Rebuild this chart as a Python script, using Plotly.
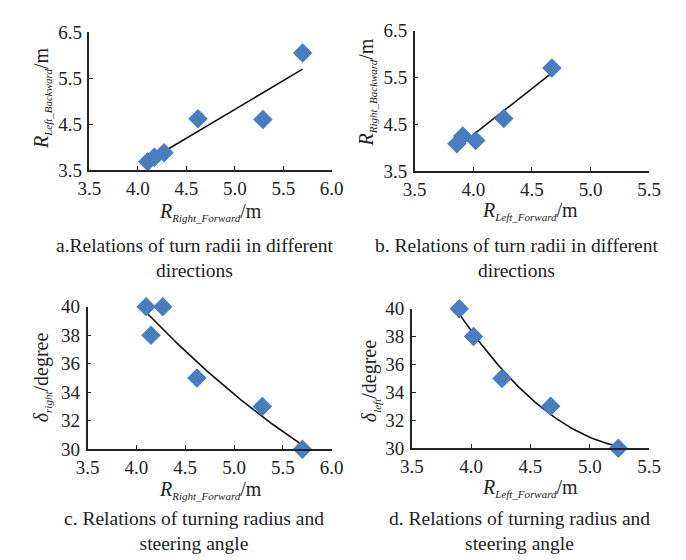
import numpy as np
import plotly.graph_objects as go

# ---- data ----
a_x = [4.10, 4.17, 4.27, 4.62, 5.29, 5.70]
a_y = [3.68, 3.78, 3.88, 4.62, 4.60, 6.05]

b_x = [3.86, 3.91, 4.02, 4.26, 4.67]
b_y = [4.08, 4.25, 4.15, 4.62, 5.70]

c_x = [4.10, 4.15, 4.27, 4.62, 5.29, 5.70]
c_y = [40, 38, 40, 35, 33, 30]

d_x = [3.90, 4.02, 4.26, 4.67, 5.24]
d_y = [40, 38, 35, 33, 30]

caption_a = "a.Relations of turn radii in different<br>directions"
caption_b = "b. Relations of turn radii in different<br>directions"
caption_c = "c. Relations of turning radius and<br>steering angle"
caption_d = "d. Relations of turning radius and<br>steering angle"

W, H = 686, 560
FONT = "Times New Roman, Liberation Serif, DejaVu Serif, serif"
MCOL = "#4a7dc0"

def px(x):
    return x / W

def py(y):
    return 1 - y / H

fig = go.Figure()

panels = [
    (a_x, a_y, 1, "", (72, 323, 15, 158), [3.5, 6.0], [3.5, 6.5], 3.5, 1),
    (b_x, b_y, 1, "2", (409, 652, 13, 159), [3.5, 5.5], [3.5, 6.5], 3.5, 1),
    (c_x, c_y, 2, "3", (70, 323, 300, 448), [3.5, 6.0], [30, 40], 30, 2),
    (d_x, d_y, 2, "4", (406, 652, 302, 447), [3.5, 5.5], [30, 40], 30, 2),
]

for xs, ys, deg, ax, (x0, x1, y0, y1), xr, yr, yt0, ydt in panels:
    coef = np.polyfit(xs, ys, deg)
    fx = np.linspace(min(xs), max(xs), 60)
    fy = np.polyval(coef, fx)
    xa = "x" + ax
    ya = "y" + ax
    fig.add_trace(go.Scatter(x=fx, y=fy, mode="lines", xaxis=xa, yaxis=ya,
                             line=dict(color="#111111", width=1.6), showlegend=False,
                             hoverinfo="skip"))
    fig.add_trace(go.Scatter(x=xs, y=ys, mode="markers", xaxis=xa, yaxis=ya,
                             marker=dict(symbol="diamond", size=15, color=MCOL,
                                         line=dict(width=0)),
                             cliponaxis=False, showlegend=False))
    xkey = "xaxis" + ax
    ykey = "yaxis" + ax
    common = dict(showgrid=False, zeroline=False, showline=True, linecolor="#222222",
                  linewidth=1.5, ticks="inside", ticklen=4, tickwidth=1.2,
                  tickcolor="#222222", tickfont=dict(family=FONT, size=19, color="#222222"))
    fig.layout[xkey] = dict(domain=[px(x0), px(x1)], range=xr, anchor=ya,
                            tick0=3.5, dtick=0.5, tickformat=".1f", **common)
    fig.layout[ykey] = dict(domain=[py(y1), py(y0)], range=yr, anchor=xa,
                            tick0=yt0, dtick=ydt, ticklabelstandoff=2,
                            tickformat=".1f" if ydt == 1 else "d", **common)

def sub(s):
    return "<sub><span style='font-size:11px'>" + s + "</span></sub>"

annos = []
def add_text(text, x, y, size=20, angle=0):
    annos.append(dict(text=text, x=px(x), y=py(y), xref="paper", yref="paper",
                      showarrow=False, textangle=angle,
                      font=dict(family=FONT, size=size, color="#222222"),
                      xanchor="center", yanchor="middle"))

# x-axis titles
add_text("<i>R</i>" + sub("<i>Right_Forward</i>") + "/m", 197, 202)
add_text("<i>R</i>" + sub("<i>Left_Forward</i>") + "/m", 528, 200)
add_text("<i>R</i>" + sub("<i>Right_Forward</i>") + "/m", 197, 490)
add_text("<i>R</i>" + sub("<i>Left_Forward</i>") + "/m", 528, 488)
# y-axis titles
add_text("<i>R</i>" + sub("<i>Left_Backward</i>") + "/m", 23, 83, angle=-90)
add_text("<i>R</i>" + sub("<i>Right_Backward</i>") + "/m", 360, 77, angle=-90)
add_text("<i>δ</i>" + sub("<i>right</i>") + "/degree", 23, 373, angle=-90)
add_text("<i>δ</i>" + sub("<i>left</i>") + "/degree", 363, 377, angle=-90)
# captions
add_text(caption_a, 181, 249, size=19.5)
add_text(caption_b, 515, 249, size=19.5)
add_text(caption_c, 180, 533, size=19.5)
add_text(caption_d, 518, 533, size=19.5)

fig.update_layout(width=W, height=H, margin=dict(l=0, r=0, t=0, b=0),
                  paper_bgcolor="white", plot_bgcolor="white", annotations=annos)

fig.write_html("out.html")
